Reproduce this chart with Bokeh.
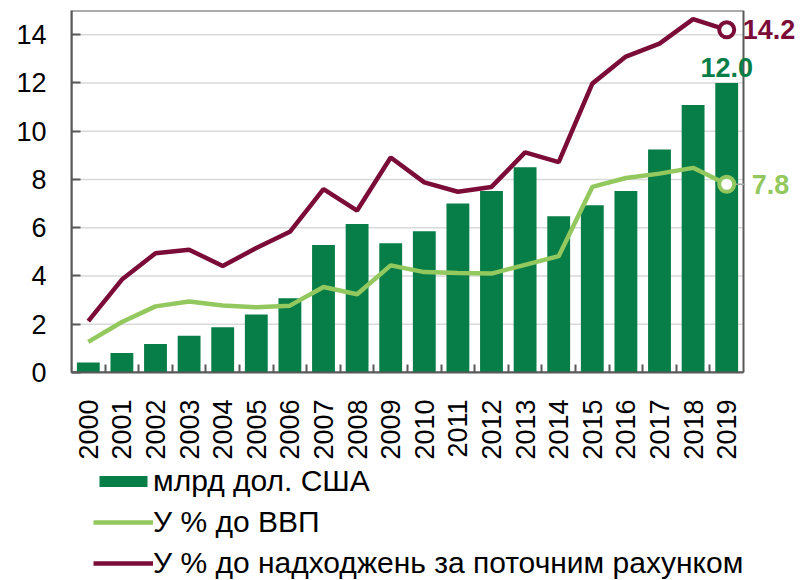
import math
from bokeh.plotting import figure
from bokeh.layouts import column
from bokeh.models import (Range1d, FixedTicker, Legend, LegendItem, ColumnDataSource, Label)
from bokeh.embed import file_html
from bokeh.resources import INLINE

years = ["2000", "2001", "2002", "2003", "2004", "2005", "2006", "2007", "2008", "2009",
         "2010", "2011", "2012", "2013", "2014", "2015", "2016", "2017", "2018", "2019"]
usd_bn = [0.41, 0.81, 1.18, 1.52, 1.87, 2.40, 3.08, 5.28, 6.15, 5.36,
          5.85, 7.00, 7.52, 8.51, 6.47, 6.93, 7.52, 9.24, 11.08, 12.0]
pct_gdp = [1.27, 2.09, 2.74, 2.94, 2.78, 2.70, 2.77, 3.54, 3.24, 4.44,
           4.16, 4.12, 4.10, 4.46, 4.82, 7.69, 8.06, 8.24, 8.48, 7.8]
pct_ca = [2.13, 3.85, 4.94, 5.09, 4.41, 5.16, 5.83, 7.60, 6.71, 8.91,
          7.88, 7.49, 7.69, 9.12, 8.72, 11.97, 13.09, 13.63, 14.64, 14.2]
y_ticks = [0, 2, 4, 6, 8, 10, 12, 14]
legend_labels = ["млрд дол. США", "У % до ВВП", "У % до надходжень за поточним рахунком"]

C_BAR = "#077D48"
C_GDP = "#92C85E"
C_CA = "#7B0C38"
C_AX = "#595959"
FONT = "Liberation Sans"

n = len(years)
idx = list(range(n))
x_lo, x_hi = -0.5, n - 0.5
y_lo, y_hi = 0, 15
src = ColumnDataSource(dict(x=idx, bar=usd_bn, gdp=pct_gdp, ca=pct_ca))

# frame extends to the right page edge so that the end labels are not clipped
px_per_cat = 33.6
x_end = x_hi + 57 / px_per_cat

p = figure(width=800, height=462, output_backend="svg", toolbar_location=None,
           x_range=Range1d(x_lo, x_end), y_range=Range1d(y_lo, y_hi),
           min_border_left=71, min_border_right=0, min_border_top=10, min_border_bottom=83)
p.background_fill_color = "white"
p.border_fill_color = "white"
p.outline_line_color = None
p.grid.visible = False

# gridlines (limited to the plot box)
gy = y_ticks[1:]
p.segment(x0=[x_lo] * len(gy), x1=[x_hi] * len(gy), y0=gy, y1=gy,
          line_color="#D9D9D9", line_width=1.5)
# plot box
p.quad(left=[x_lo], right=[x_hi], bottom=[y_lo], top=[y_hi], fill_color=None,
       line_color=C_AX, line_width=2)

bars = p.vbar(x="x", top="bar", width=0.68, source=src, fill_color=C_BAR, line_color=None)
l_gdp = p.line(x="x", y="gdp", source=src, line_color=C_GDP, line_width=4.5)
l_ca = p.line(x="x", y="ca", source=src, line_color=C_CA, line_width=4.5)

last = n - 1
p.segment(x0=[last], y0=[pct_gdp[last]], x1=[last + 0.55], y1=[pct_gdp[last]],
          line_color="#A6A6A6", line_width=1.5)
p.scatter(x=[last], y=[pct_gdp[last]], size=15, marker="circle", fill_color="white",
          line_color=C_GDP, line_width=4)
p.scatter(x=[last], y=[pct_ca[last]], size=15, marker="circle", fill_color="white",
          line_color=C_CA, line_width=4)

p.add_layout(Label(x=last, y=pct_ca[last], text=f"{pct_ca[last]:.1f}", x_offset=16,
                   text_align="left", text_baseline="middle", text_font=FONT,
                   text_font_style="bold", text_font_size="27px", text_color=C_CA))
p.add_layout(Label(x=last, y=usd_bn[last], text=f"{usd_bn[last]:.1f}", y_offset=6,
                   text_align="center", text_baseline="bottom", text_font=FONT,
                   text_font_style="bold", text_font_size="27px", text_color=C_BAR))
p.add_layout(Label(x=last, y=pct_gdp[last], text=f"{pct_gdp[last]:.1f}", x_offset=25,
                   text_align="left", text_baseline="middle", text_font=FONT,
                   text_font_style="bold", text_font_size="27px", text_color=C_GDP))

# y axis
ya = p.yaxis[0]
ya.ticker = FixedTicker(ticks=y_ticks)
ya.axis_line_color = C_AX
ya.axis_line_width = 2
ya.major_tick_in = 9
ya.major_tick_out = 0
ya.major_tick_line_color = C_AX
ya.major_tick_line_width = 2
ya.minor_tick_line_color = None
ya.major_label_standoff = 25
ya.major_label_text_font = FONT
ya.major_label_text_font_size = "27px"
ya.major_label_text_color = "#000000"

# x axis
xa = p.xaxis[0]
xa.bounds = (x_lo, x_hi)
xa.ticker = FixedTicker(ticks=idx, minor_ticks=[i + 0.5 for i in idx[:-1]])
xa.major_label_overrides = {i: y for i, y in zip(idx, years)}
xa.major_label_orientation = math.pi / 2
xa.axis_line_color = C_AX
xa.axis_line_width = 2
xa.major_tick_line_color = None
xa.minor_tick_in = 8
xa.minor_tick_out = 0
xa.minor_tick_line_color = C_AX
xa.minor_tick_line_width = 2
xa.major_label_standoff = 21
xa.major_label_text_font = FONT
xa.major_label_text_font_size = "27px"
xa.major_label_text_color = "#000000"

# legend in its own strip below the chart (series renderers kept hidden there)
p2 = figure(width=800, height=118, output_backend="svg", toolbar_location=None,
            x_range=Range1d(x_lo, x_hi), y_range=Range1d(y_lo, y_hi), min_border=0,
            min_border_left=0, min_border_right=0, min_border_top=0, min_border_bottom=0,
            x_axis_type=None, y_axis_type=None)
p2.outline_line_color = None
p2.grid.visible = False
p2.background_fill_color = "white"
p2.border_fill_color = "white"
e_bar = p2.vbar(x="x", top="bar", width=0.68, source=src, fill_color=C_BAR, line_color=None,
                visible=False)
e_gdp = p2.line(x="x", y="gdp", source=src, line_color=C_GDP, line_width=4.5, visible=False)
e_ca = p2.line(x="x", y="ca", source=src, line_color=C_CA, line_width=4.5, visible=False)

legend = Legend(items=[LegendItem(label=legend_labels[0], renderers=[e_bar]),
                       LegendItem(label=legend_labels[1], renderers=[e_gdp]),
                       LegendItem(label=legend_labels[2], renderers=[e_ca])],
                location=(22, 0), orientation="vertical")
legend.margin = 0
legend.padding = 0
legend.spacing = 7
legend.glyph_width = 60
legend.glyph_height = 14
legend.label_height = 30
legend.label_standoff = 0
legend.label_text_font = FONT
legend.label_text_font_size = "30px"
legend.label_text_color = "#000000"
legend.border_line_color = None
legend.background_fill_alpha = 0
legend.inactive_fill_alpha = 0
p2.add_layout(legend)

layout = column(p, p2, spacing=0)
open("out.html", "w").write(file_html(layout, INLINE))
